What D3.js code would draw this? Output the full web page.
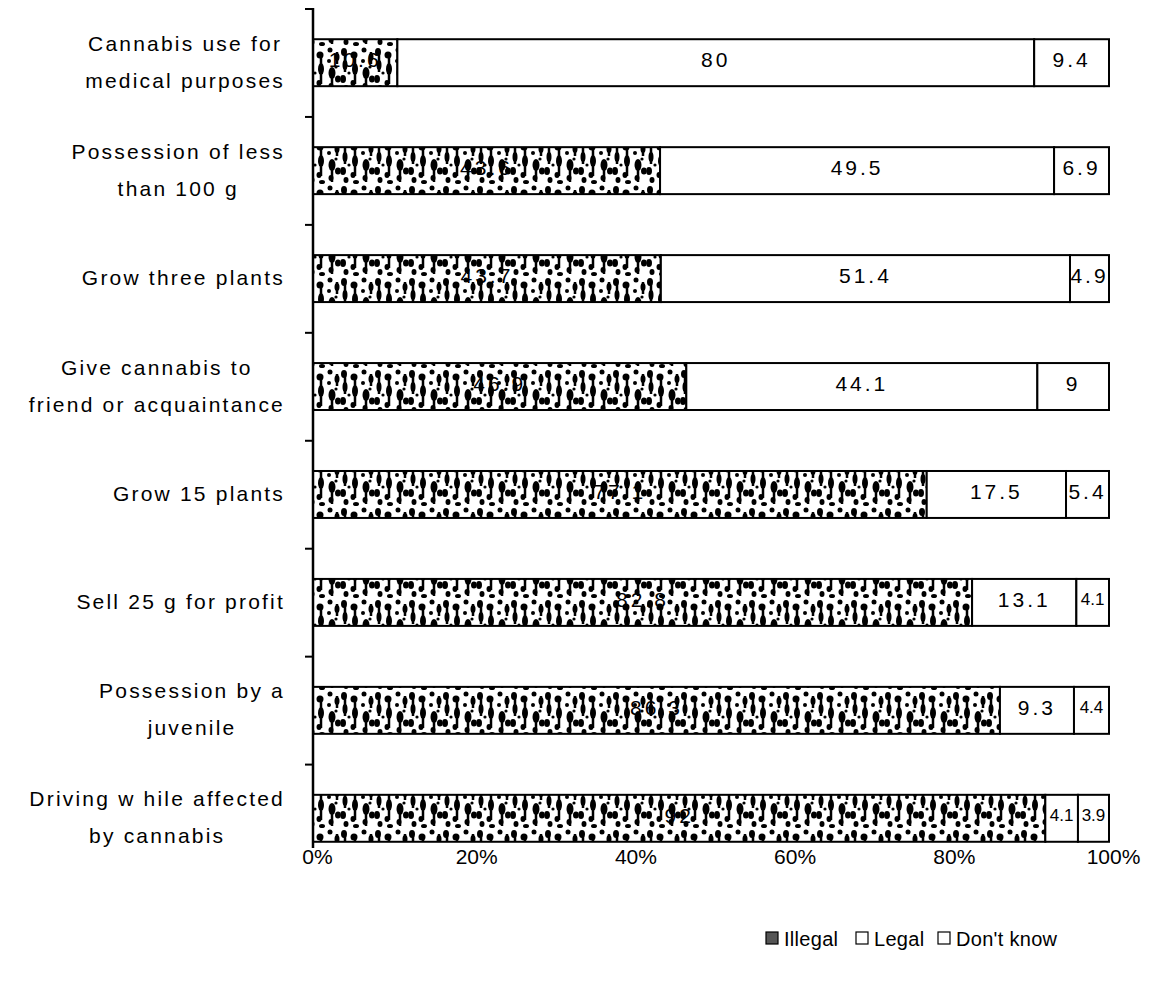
<!DOCTYPE html>
<html>
<head>
<meta charset="utf-8">
<script src="https://cdn.jsdelivr.net/npm/d3@7"></script>
<style>
  body { margin: 0; background: #fff; }
  text { font-family: "Liberation Sans", Arial, sans-serif; fill: #000; }
</style>
</head>
<body>
<svg width="1153" height="1002"></svg>
<script>
// data
const categories = [
  ["Cannabis use for", "medical purposes"],
  ["Possession of less", "than 100 g"],
  ["Grow three plants"],
  ["Give cannabis to", "friend or acquaintance"],
  ["Grow  15 plants"],
  ["Sell 25 g for profit"],
  ["Possession by a", "juvenile"],
  ["Driving w hile affected", "by cannabis"]
];
const illegal = [10.6, 43.6, 43.7, 46.9, 77.1, 82.8, 86.3, 92];
const legal = [80, 49.5, 51.4, 44.1, 17.5, 13.1, 9.3, 4.1];
const dontKnow = [9.4, 6.9, 4.9, 9, 5.4, 4.1, 4.4, 3.9];
const seriesNames = ["Illegal", "Legal", "Don't know"];
const xTicks = [0, 20, 40, 60, 80, 100];

const svg = d3.select('svg');

// speckled fill for the "Illegal" segments
const defs = svg.append('defs');
const pat = defs.append('pattern')
  .attr('id', 'speckle')
  .attr('patternUnits', 'userSpaceOnUse')
  .attr('width', 34).attr('height', 46);
pat.append('rect').attr('width', 34).attr('height', 46).attr('fill', '#fff');
const blobs = [
  [4, 6, 3, 4], [5, 19, 2.5, 5], [3, 33, 3, 4], [6, 42, 2.5, 3],
  [14, 9, 3.5, 3.5], [15, 23, 3, 6], [13, 37, 2.5, 3], [16, 44, 3, 2],
  [24, 4, 2.5, 2.5], [23, 15, 2, 2], [26, 27, 3.5, 6], [25, 40, 2.5, 3],
  [31, 11, 2.5, 4], [32, 33, 3, 3.5], [30, 21, 1.6, 1.6], [9, 27, 1.6, 1.6]
];
blobs.forEach(b => {
  pat.append('ellipse').attr('cx', b[0]).attr('cy', b[1])
    .attr('rx', b[2]).attr('ry', b[3]).attr('fill', '#000');
});
pat.append('path').attr('d', 'M15 10 L15 38 M5 8 L5 26 M26 22 L26 44 M31 6 L31 18')
  .attr('stroke', '#000').attr('stroke-width', 2.5);

const x = d3.scaleLinear().domain([0, 100]).range([313, 1109]);
const y = d3.scaleBand()
  .domain(d3.range(categories.length))
  .range([9, 872])
  .paddingInner(0.565).paddingOuter(0.28);

const fills = ['url(#speckle)', '#fff', '#fff'];
const rows = categories.map((c, i) => [illegal[i], legal[i], dontKnow[i]]);
const stack = d3.stack().keys([0, 1, 2])(rows);

stack.forEach((layer, k) => {
  svg.append('g').selectAll('rect')
    .data(layer)
    .join('rect')
    .attr('x', d => x(d[0]))
    .attr('y', (d, i) => y(i))
    .attr('width', d => x(d[1]) - x(d[0]))
    .attr('height', y.bandwidth())
    .attr('fill', fills[k])
    .attr('stroke', '#000')
    .attr('stroke-width', 2);

  // narrow segments get a tighter label so neighbours don't collide
  svg.append('g').selectAll('text')
    .data(layer)
    .join('text')
    .attr('x', d => (x(d[0]) + x(d[1])) / 2)
    .attr('y', (d, i) => y(i) + y.bandwidth() / 2 - 3)
    .attr('text-anchor', 'middle')
    .attr('dominant-baseline', 'central')
    .attr('font-size', d => (x(d[1]) - x(d[0]) < 36 ? 17 : 21))
    .attr('letter-spacing', d => (x(d[1]) - x(d[0]) < 36 ? 0 : 3))
    .text(d => String(+(d[1] - d[0]).toFixed(1)));
});

// left axis
svg.append('line')
  .attr('x1', x(0)).attr('x2', x(0))
  .attr('y1', 8).attr('y2', 848)
  .attr('stroke', '#000').attr('stroke-width', 2.5);
svg.append('g').selectAll('line')
  .data(d3.range(categories.length))
  .join('line')
  .attr('x1', x(0) - 8).attr('x2', x(0))
  .attr('y1', i => 9 + i * y.step())
  .attr('y2', i => 9 + i * y.step())
  .attr('stroke', '#000').attr('stroke-width', 2);

// category labels: block right-aligned, lines centred inside it
const labelRight = 285;
categories.forEach((lines, i) => {
  const g = svg.append('g');
  const cy = y(i) + y.bandwidth() / 2;
  const lh = 37;
  const ts = lines.map((ln, j) => g.append('text')
    .attr('font-size', 21)
    .attr('letter-spacing', 2.2)
    .attr('text-anchor', 'middle')
    .attr('dominant-baseline', 'central')
    .attr('y', cy + (j - (lines.length - 1) / 2) * lh - 1)
    .text(ln));
  const w = d3.max(ts, t => t.node().getComputedTextLength());
  ts.forEach(t => t.attr('x', labelRight - w / 2));
});

// x axis tick labels
const xAxis = svg.append('g')
  .attr('transform', 'translate(4, 846)')
  .call(d3.axisBottom(x).tickValues(xTicks).tickSize(0).tickPadding(3)
    .tickFormat(d => d + '%'));
xAxis.select('.domain').remove();
xAxis.selectAll('text').attr('font-size', 21)
  .style('font-family', '"Liberation Sans", Arial, sans-serif');

// legend
const legendX = [766, 856, 938];
const legend = svg.append('g');
seriesNames.forEach((name, k) => {
  legend.append('rect')
    .attr('x', legendX[k]).attr('y', 932)
    .attr('width', 12).attr('height', 12)
    .attr('fill', k === 0 ? '#555' : '#fff')
    .attr('stroke', '#000').attr('stroke-width', 1.2);
  legend.append('text')
    .attr('x', legendX[k] + 18).attr('y', 939)
    .attr('dominant-baseline', 'central')
    .attr('font-size', 20)
    .attr('letter-spacing', 0.3)
    .text(name);
});
</script>
</body>
</html>
